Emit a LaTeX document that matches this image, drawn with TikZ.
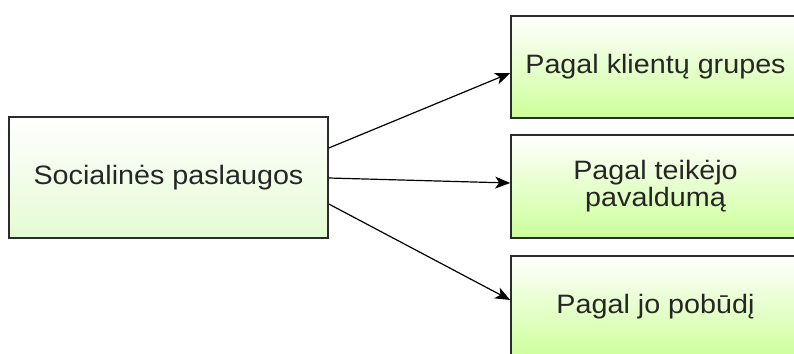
\documentclass[tikz,border=0pt]{standalone}
\usepackage{fontspec}
\setmainfont[FakeStretch=1.08]{Liberation Sans}
\usetikzlibrary{arrows.meta}
\definecolor{rootgreen}{HTML}{E4FBD2}
\definecolor{leafgreen}{HTML}{CCFF99}
\definecolor{boxline}{HTML}{2B2B2B}
\tikzset{
  box/.style={draw=boxline,line width=0.8pt,top color=white,inner sep=0pt,
    align=center,text=black!85,font=\fontsize{13.3}{11.75}\selectfont},
  rootbox/.style={box,bottom color=rootgreen,minimum width=159.5pt,minimum height=60.5pt},
  leafbox/.style={box,bottom color=leafgreen,minimum width=144.5pt,minimum height=51pt},
  link/.style={-{Stealth[length=7.5pt,width=6pt,inset=2pt]},line width=0.6pt,black}
}
\begin{document}
\begin{tikzpicture}[x=0.5pt,y=-0.5pt]
\useasboundingbox (0,0) rectangle (794,354);
\node[rootbox] (soc) at (168.5,177.5) {Socialinės paslaugos};
\node[leafbox] (klient) at (655.5,67) {Pagal klientų grupes};
\node[leafbox,minimum height=51.5pt] (teik) at (655.5,186.5) {Pagal teikėjo\\pavaldumą};
\node[leafbox] (pob) at (655.5,307) {Pagal jo pobūdį};
\draw[link] ([yshift=14.75pt]soc.east) -- ([yshift=-3pt]klient.west);
\draw[link] ([yshift=-0.25pt]soc.east) -- ([yshift=1.75pt]teik.west);
\draw[link] ([yshift=-13.25pt]soc.east) -- ([yshift=3.5pt]pob.west);
\end{tikzpicture}
\end{document}
